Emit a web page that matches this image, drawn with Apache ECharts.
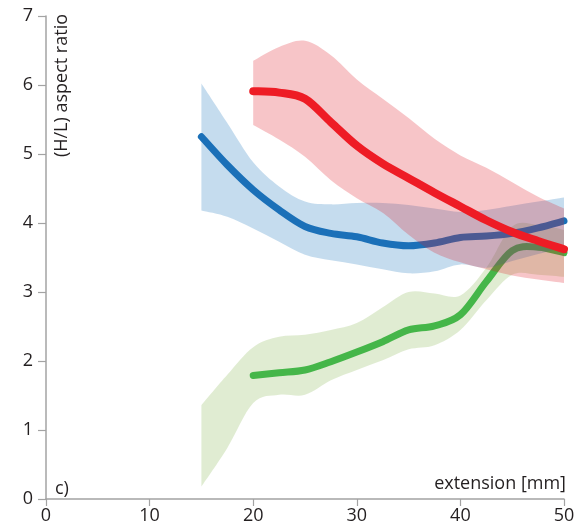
<!DOCTYPE html>
<html>
<head>
<meta charset="utf-8">
<script src="https://cdn.jsdelivr.net/npm/echarts@6/dist/echarts.min.js"></script>
<style>
  html, body { margin: 0; padding: 0; background: #fff; }
  #chart { width: 578px; height: 530px; }
</style>
</head>
<body>
<div id="chart"></div>
<script>
// Extension positions (mm) used for every series
const xBand = [15, 17.5, 20, 22.5, 25, 27.5, 30, 32.5, 35, 37.5, 40, 42.5, 45, 47.5, 50];
const xFrom20 = [20, 22.5, 25, 27.5, 30, 32.5, 35, 37.5, 40, 42.5, 45, 47.5, 50];

// Green: mean curve and spread
const greenMean = [1.79, 1.83, 1.87, 1.99, 2.13, 2.28, 2.45, 2.51, 2.67, 3.15, 3.60, 3.65, 3.57];
const greenLow  = [0.18, 0.74, 1.39, 1.51, 1.51, 1.72, 1.87, 2.01, 2.17, 2.23, 2.45, 2.88, 3.25, 3.25, 3.22];
const greenHigh = [1.36, 1.80, 2.20, 2.35, 2.38, 2.45, 2.55, 2.78, 3.00, 2.98, 2.95, 3.35, 3.95, 3.97, 3.90];

// Blue: mean curve and spread
const blueMean = [5.25, 4.84, 4.48, 4.19, 3.95, 3.85, 3.80, 3.71, 3.67, 3.71, 3.79, 3.81, 3.85, 3.93, 4.03];
const blueLow  = [4.18, 4.09, 3.92, 3.73, 3.54, 3.46, 3.40, 3.33, 3.27, 3.30, 3.40, 3.35, 3.45, 3.55, 3.65];
const blueHigh = [6.02, 5.45, 4.88, 4.53, 4.31, 4.27, 4.29, 4.29, 4.26, 4.21, 4.16, 4.19, 4.25, 4.31, 4.37];

// Red: mean curve and spread
const redMean = [5.91, 5.89, 5.80, 5.46, 5.12, 4.86, 4.65, 4.44, 4.24, 4.04, 3.87, 3.74, 3.62];
const redLow  = [5.42, 5.21, 4.96, 4.62, 4.36, 4.15, 3.83, 3.57, 3.43, 3.33, 3.24, 3.18, 3.13];
const redHigh = [6.35, 6.55, 6.64, 6.43, 6.08, 5.80, 5.52, 5.22, 4.98, 4.80, 4.59, 4.38, 4.21];

// Axis ticks
const xTicks = [0, 10, 20, 30, 40, 50];
const yTicks = [0, 1, 2, 3, 4, 5, 6, 7];

const FONT = '"Open Sans", sans-serif';

// Catmull-Rom curve through pixel points, as cubic bezier path commands
function curveCommands(pts) {
  let d = '';
  const k = 1 / 6;
  for (let i = 0; i < pts.length - 1; i++) {
    const p0 = pts[i - 1] || pts[i];
    const p1 = pts[i];
    const p2 = pts[i + 1];
    const p3 = pts[i + 2] || pts[i + 1];
    const c1 = [p1[0] + (p2[0] - p0[0]) * k, p1[1] + (p2[1] - p0[1]) * k];
    const c2 = [p2[0] - (p3[0] - p1[0]) * k, p2[1] - (p3[1] - p1[1]) * k];
    d += ' C' + c1[0] + ' ' + c1[1] + ' ' + c2[0] + ' ' + c2[1] + ' ' + p2[0] + ' ' + p2[1];
  }
  return d;
}

// A shaded band between a lower and an upper curve, drawn once per series
function band(name, xs, lo, hi, fill, z) {
  return {
    name: name, type: 'custom', silent: true, coordinateSystem: 'cartesian2d', z: z,
    data: xs.map((x, i) => [x, lo[i], hi[i]]),
    encode: { x: 0, y: [1, 2] },
    renderItem: function (params, api) {
      if (params.dataIndex !== 0) return null;
      const upper = xs.map((x, i) => api.coord([x, hi[i]]));
      const lower = xs.map((x, i) => api.coord([x, lo[i]])).reverse();
      const d = 'M' + upper[0][0] + ' ' + upper[0][1] + curveCommands(upper) +
                ' L' + lower[0][0] + ' ' + lower[0][1] + curveCommands(lower) + ' Z';
      return {
        type: 'path',
        shape: { pathData: d, layout: 'center' },
        style: { fill: fill, stroke: null }
      };
    }
  };
}

// A thick smooth mean curve through the data points
function meanLine(name, xs, ys, color, width, z) {
  return {
    name: name, type: 'custom', silent: true, coordinateSystem: 'cartesian2d', z: z,
    data: xs.map((x, i) => [x, ys[i]]),
    encode: { x: 0, y: 1 },
    renderItem: function (params, api) {
      if (params.dataIndex !== 0) return null;
      const pts = xs.map((x, i) => api.coord([x, ys[i]]));
      const d = 'M' + pts[0][0] + ' ' + pts[0][1] + curveCommands(pts);
      return {
        type: 'path',
        shape: { pathData: d, layout: 'center' },
        style: { fill: null, stroke: color, lineWidth: width, lineCap: 'round', lineJoin: 'round' }
      };
    }
  };
}

const chart = echarts.init(document.getElementById('chart'), null, { renderer: 'canvas' });

chart.setOption({
  animation: false,
  backgroundColor: '#ffffff',
  grid: { left: 46, right: 14, top: 16, bottom: 31, containLabel: false },
  xAxis: {
    type: 'value', min: xTicks[0], max: xTicks[xTicks.length - 1], interval: 10,
    axisLine: { show: true, onZero: false, lineStyle: { color: '#a3a3a3', width: 1.5 } },
    axisTick: { show: true, length: 7, lineStyle: { color: '#a3a3a3', width: 1.2 } },
    axisLabel: { color: '#231f20', fontSize: 18, fontFamily: FONT, margin: 8 },
    splitLine: { show: false }
  },
  yAxis: {
    type: 'value', min: yTicks[0], max: yTicks[yTicks.length - 1], interval: 1,
    axisLine: { show: true, onZero: false, lineStyle: { color: '#a3a3a3', width: 1.5 } },
    axisTick: { show: true, length: 8, lineStyle: { color: '#a3a3a3', width: 1.2 } },
    axisLabel: { color: '#231f20', fontSize: 18, fontFamily: FONT, margin: 13 },
    splitLine: { show: false }
  },
  graphic: [
    {
      type: 'text', x: 62, y: 14, rotation: Math.PI / 2,
      style: { text: '(H/L) aspect ratio', fill: '#231f20', font: '18px ' + FONT,
               textAlign: 'right', textVerticalAlign: 'middle' }
    },
    {
      type: 'text', x: 55, y: 489,
      style: { text: 'c)', fill: '#231f20', font: '18px ' + FONT,
               textAlign: 'left', textVerticalAlign: 'middle' }
    },
    {
      type: 'text', x: 566, y: 484,
      style: { text: 'extension [mm]', fill: '#231f20', font: '18px ' + FONT,
               textAlign: 'right', textVerticalAlign: 'middle' }
    }
  ],
  series: [
    band('greenBand', xBand, greenLow, greenHigh, 'rgba(131,179,75,0.25)', 1),
    meanLine('greenMean', xFrom20, greenMean, '#45b649', 7, 2),
    band('blueBand', xBand, blueLow, blueHigh, 'rgba(23,115,187,0.25)', 3),
    meanLine('blueMean', xBand, blueMean, '#1b70b8', 7, 4),
    band('redBand', xFrom20, redLow, redHigh, 'rgba(223,23,35,0.25)', 5),
    meanLine('redMean', xFrom20, redMean, '#ee1c25', 8, 6)
  ]
});
</script>
</body>
</html>
